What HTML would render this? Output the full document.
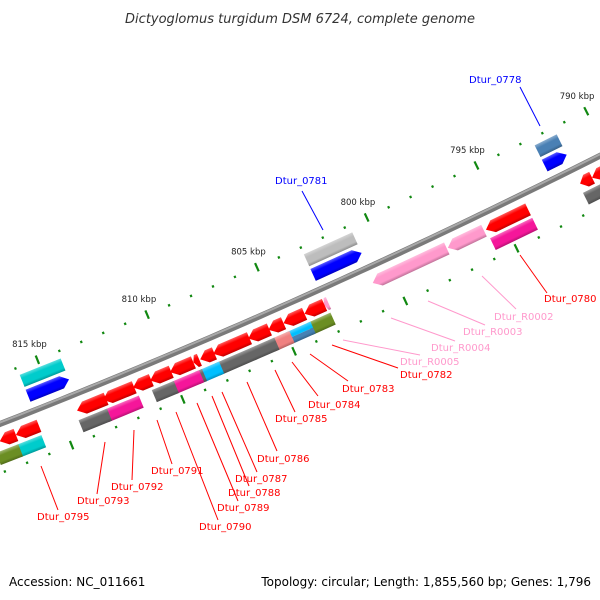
<!DOCTYPE html>
<html><head><meta charset="utf-8"><style>
html,body{margin:0;padding:0;background:#fff;}
svg{display:block;font-family:"DejaVu Sans","Liberation Sans",sans-serif;}
</style></head><body>
<svg id="chart" width="600" height="600" viewBox="0 0 600 600" xmlns="http://www.w3.org/2000/svg">
<defs>
<linearGradient id="shade" x1="0" y1="0" x2="0" y2="1">
<stop offset="0" stop-color="#fff" stop-opacity="0.35"/>
<stop offset="0.3" stop-color="#fff" stop-opacity="0.0"/>
<stop offset="0.75" stop-color="#000" stop-opacity="0.0"/>
<stop offset="1" stop-color="#000" stop-opacity="0.25"/>
</linearGradient>
</defs>
<text x="300" y="23" text-anchor="middle" font-size="13" font-style="italic" fill="#333">Dictyoglomus turgidum DSM 6724, complete genome</text>
<g id="ticks"></g>
<g id="backbone"></g>
<g id="genes"></g>
<g id="labels" font-size="10"></g>
<text x="9" y="586" font-size="12" fill="#000">Accession: NC_011661</text>
<text x="591" y="586" text-anchor="end" font-size="12" fill="#000">Topology: circular; Length: 1,855,560 bp; Genes: 1,796</text>
</svg>
<script>
// ---- data ----
const tickKbp = [790,791,792,793,794,795,796,797,798,799,800,801,802,803,804,805,806,807,808,809,810,811,812,813,814,815,816,817,818];
const tickLabels = ["790 kbp","795 kbp","800 kbp","805 kbp","810 kbp","815 kbp"];
const tickLabelKbp = [790,795,800,805,810,815];
// rows: 0 far-upper, 1 near-upper (forward), 2 near-lower (reverse), 3 far-lower
const geneStart = [791.5,791.5,800.8,800.8,814.07,814.07,
  793.89,795.88,797.56,802.9,803.08,803.98,804.93,805.57,806.47,808.05,808.73,809.00,810.00,810.90,811.67,812.94,815.97,817.01,791.0,790.3,
  793.89,802.99,803.89,804.84,805.52,806.52,808.01,808.78,808.91,810.05,811.63,813.06,816.02,817.06,790.8];
const geneEnd = [792.5,792.5,803.0,803.0,815.93,815.93,
  795.79,797.51,800.9,803.1,803.98,804.93,805.61,806.52,808.10,808.69,809.00,810.05,810.95,811.72,813.08,814.25,817.01,817.74,791.54,791.0,
  795.79,804.03,805.02,805.70,806.61,808.19,808.87,809.10,810.14,811.04,813.21,814.34,817.15,818.06,791.6];
const geneRow = [0,1,0,1,0,1,
  2,2,2,2,2,2,2,2,2,2,2,2,2,2,2,2,2,2,2,2,
  3,3,3,3,3,3,3,3,3,3,3,3,3,3,3];
const geneCat = ["steel","fwd","lgray","fwd","cyan","fwd",
  "rev","rna","rna","rna","rev","rev","rev","rev","rev","rev","rev","rev","rev","rev","rev","rev","rev","rev","rev","rev",
  "mag","olive","split","salmon","gray","gray","cyan2","gray","mag","gray","mag","gray","cyan","olive","gray"];
const catColor = {steel:"#4a80b4",fwd:"#0000ff",lgray:"#bdbdbd",cyan:"#00cccc",rev:"#ff0000",rna:"#ff99cc",
  mag:"#f5169a",olive:"#6b8e23",split:"#00bfff",salmon:"#f08080",gray:"#666666",cyan2:"#00bfff"};

// ---- geometry ----
const NS="http://www.w3.org/2000/svg";
const A=-9.4e-5,B=-0.3906,C=424;
function X(k){return 386+(800-k)*22.1;}
function Y(x){return A*x*x+B*x+C;}
function slope(x){return 2*A*x+B;}
function pt(k,v){const x=X(k),s=slope(x),N=Math.hypot(1,s);return [x+(-s/N)*v, Y(x)+(1/N)*v];}
function ang(k){return Math.atan(slope(X(k)))*180/Math.PI;}
function mk(tag,attrs,parent){const e=document.createElementNS(NS,tag);for(const a in attrs)e.setAttribute(a,attrs[a]);parent.appendChild(e);return e;}

// backbone
const bb=document.getElementById('backbone');
let d="";for(let x=-10;x<=610;x+=10){d+=(x===-10?"M":"L")+x+","+Y(x).toFixed(2)+" ";}
const p1=mk('path',{d:d,fill:"none",stroke:"#7a7a7a","stroke-width":6},bb);

const p2=mk('path',{d:d,fill:"none",stroke:"#a8a8a8","stroke-width":2,transform:"translate(0,-1.5)"},bb);


// ticks
const tg=document.getElementById('ticks');
tickKbp.forEach(k=>{
  const big=k%5===0;
  [-46,46].forEach(v=>{
    const h=big?4.5:1.2;
    const a=pt(k,v-h),b=pt(k,v+h);
    const l=mk('line',{x1:a[0],y1:a[1],x2:b[0],y2:b[1],stroke:"#118811","stroke-width":big?2.2:2.2},tg);
    
    
  });
});
tickLabelKbp.forEach((k,i)=>{
  const p=pt(k,-62);
  const t=mk('text',{x:p[0]-2,y:p[1]+2,"text-anchor":"middle","font-size":"8.5",fill:"#222"},tg);
  t.textContent=tickLabels[i];
  
  
});

// genes
const gg=document.getElementById('genes');
const rowV=[-32,-16,16,32];
geneStart.forEach((s,i)=>{
  const kHi=Math.max(s,geneEnd[i]),kLo=Math.min(s,geneEnd[i]);
  const a=pt(kHi,rowV[geneRow[i]]),b=pt(kLo,rowV[geneRow[i]]);
  const L=Math.hypot(b[0]-a[0],b[1]-a[1]);
  const mx=(a[0]+b[0])/2,my=(a[1]+b[1])/2;
  const g=mk('g',{transform:`translate(${mx.toFixed(2)},${my.toFixed(2)}) rotate(${ang((kHi+kLo)/2).toFixed(2)})`},gg);
  
  
  const h=6.5,u0=-L/2,u1=L/2,head=Math.min(8,L*0.5);
  let pts;
  const row=geneRow[i],cat=geneCat[i];
  if(row===1){pts=`${u0},${-h} ${u1-head},${-h} ${u1},0 ${u1-head},${h} ${u0},${h}`;}
  else if(row===2){pts=`${u0},0 ${u0+head},${-h} ${u1},${-h} ${u1},${h} ${u0+head},${h}`;}
  else {pts=`${u0},${-h} ${u1},${-h} ${u1},${h} ${u0},${h}`;}
  if(cat==="split"){
    mk('polygon',{points:`${u0},${-h} ${u1},${-h} ${u1},0 ${u0},0`,fill:"#00bfff"},g);
    mk('polygon',{points:`${u0},0 ${u1},0 ${u1},${h} ${u0},${h}`,fill:"#4682b4"},g);
  } else {
    mk('polygon',{points:pts,fill:catColor[cat]},g);
  }
  mk('polygon',{points:pts,fill:"url(#shade)"},g);
});

// labels
const labels=[
 ["Dtur_0778",469,83,"#0000ff",520,87,540,126],
 ["Dtur_0781",275,184,"#0000ff",302,191,323,230],
 ["Dtur_0780",544,302,"#ff0000",520,255,547,293],
 ["Dtur_R0002",494,320,"#ff99cc",482,276,516,309],
 ["Dtur_R0003",463,335,"#ff99cc",428,301,485,325],
 ["Dtur_R0004",431,351,"#ff99cc",391,318,455,341],
 ["Dtur_R0005",400,365,"#ff99cc",343,340,420,355],
 ["Dtur_0782",400,378,"#ff0000",332,345,398,368],
 ["Dtur_0783",342,392,"#ff0000",310,354,348,381],
 ["Dtur_0784",308,408,"#ff0000",292,362,318,396],
 ["Dtur_0785",275,422,"#ff0000",275,370,295,412],
 ["Dtur_0786",257,462,"#ff0000",247,382,277,451],
 ["Dtur_0787",235,482,"#ff0000",222,392,257,472],
 ["Dtur_0788",228,496,"#ff0000",212,396,249,486],
 ["Dtur_0789",217,511,"#ff0000",197,403,238,501],
 ["Dtur_0790",199,530,"#ff0000",176,412,218,520],
 ["Dtur_0791",151,474,"#ff0000",157,420,172,464],
 ["Dtur_0792",111,490,"#ff0000",134,430,132,480],
 ["Dtur_0793",77,504,"#ff0000",105,442,97,494],
 ["Dtur_0795",37,520,"#ff0000",41,466,58,510]
];
const lg=document.getElementById('labels');
labels.forEach(r=>{
  const l=mk('line',{x1:r[4],y1:r[5],x2:r[6],y2:r[7],stroke:r[3],"stroke-width":1},lg);
  
  
  const t=mk('text',{x:r[1],y:r[2],fill:r[3]},lg);
  t.textContent=r[0];
  
  
});
</script>
</body></html>
